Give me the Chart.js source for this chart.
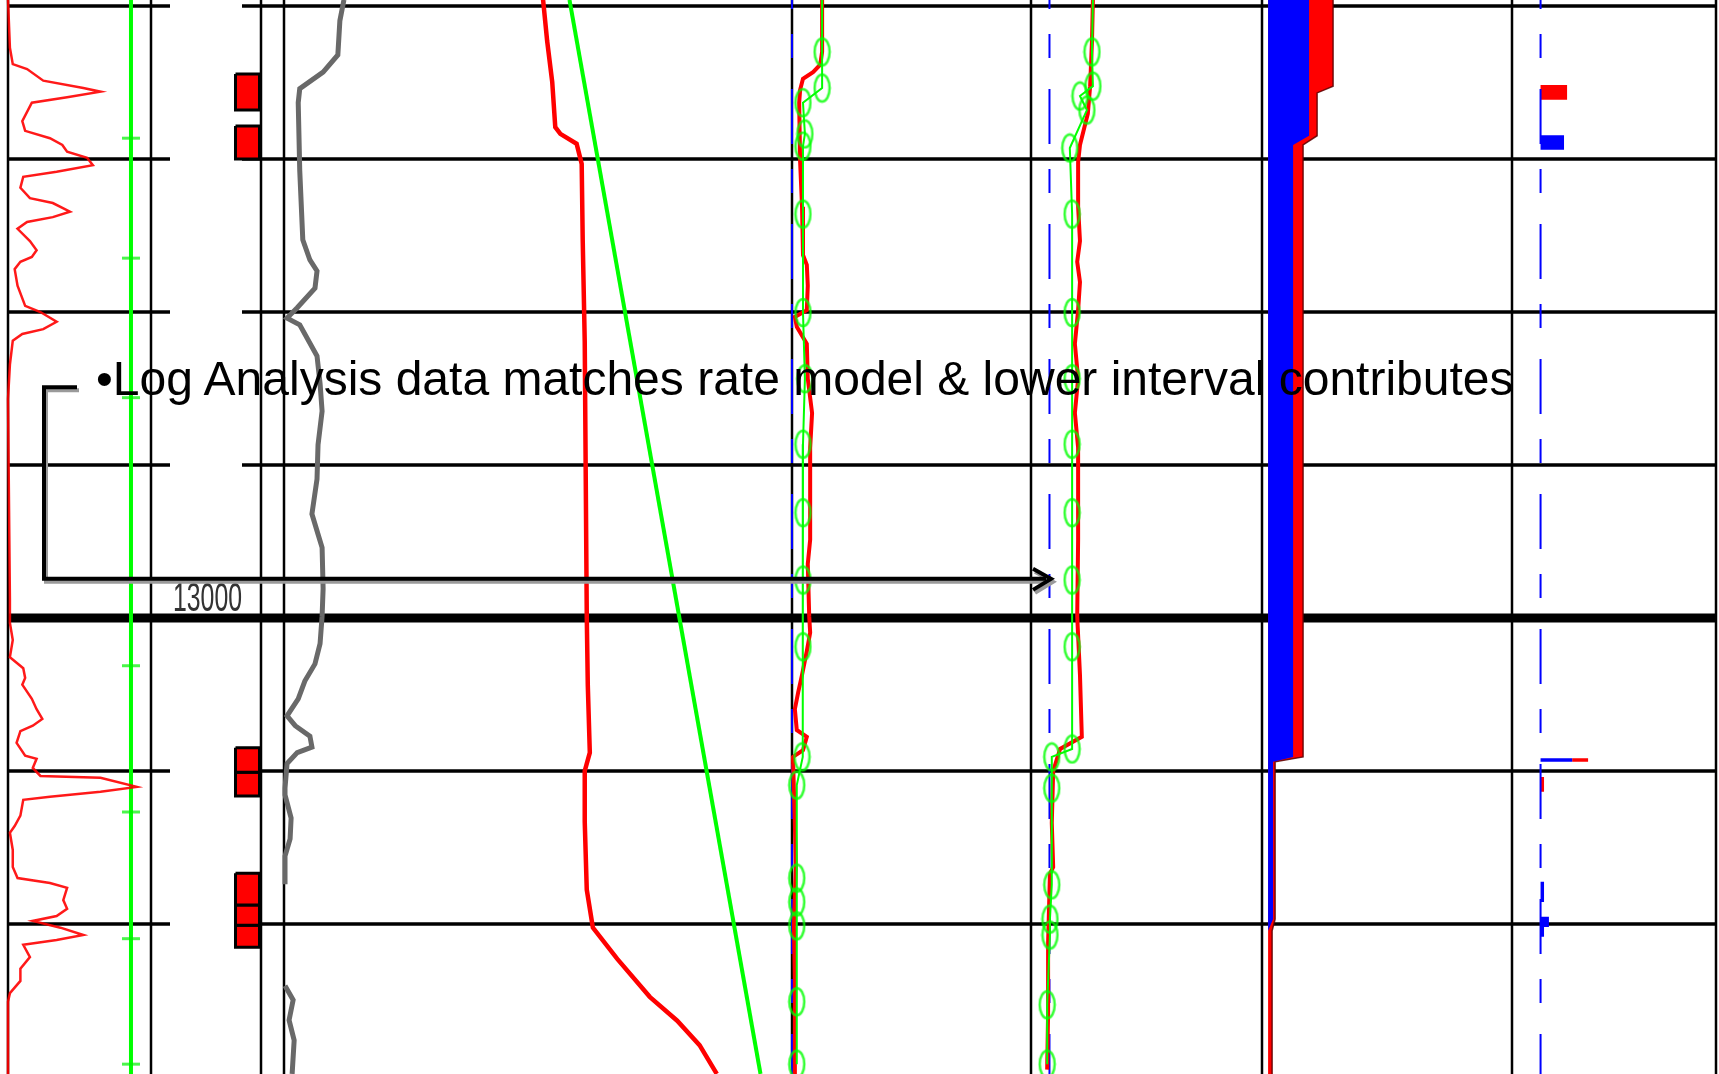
<!DOCTYPE html>
<html>
<head>
<meta charset="utf-8">
<script src="https://cdn.jsdelivr.net/npm/chart.js@4.4.1/dist/chart.umd.min.js"></script>
<style>
  html, body { margin: 0; padding: 0; background: #fff; }
  #wrap { position: relative; width: 1719px; height: 1074px; overflow: hidden; }
  #log { position: absolute; left: 0; top: 0; }
  #note { position: absolute; left: 96px; top: 355px; font-family: "Liberation Sans", Arial, sans-serif;
          font-size: 48px; line-height: 48px; white-space: nowrap; color: #000; }
</style>
</head>
<body>
<div id="wrap">
  <canvas id="log" width="1719" height="1074"></canvas>
  <div id="note">•Log Analysis data matches rate model &amp; lower interval contributes</div>
</div>
<script>
// ---- depth grid (ft) ----
const gridDepths = [12900, 12925, 12950, 12975, 13000, 13025, 13050];
const depthLabels = [13000];

// ---- track 1: gamma ray + caliper ----
const grDepth = [12899.0, 12906.8, 12909.5, 12910.3, 12912.2, 12913.4, 12914.0, 12914.9, 12915.8, 12918.8,
                 12920.4, 12921.6, 12922.7, 12923.8, 12924.8, 12926.0, 12927.1, 12927.9, 12929.7, 12931.4,
                 12932.2, 12933.6, 12934.5, 12935.3, 12936.4, 12938.4, 12939.9, 12941.0, 12941.8, 12943.0,
                 12945.7, 12949.0, 12950.0, 12951.6, 12952.8, 12953.6, 12954.7, 12958.6, 12964.2, 12996.9,
                 13000.8, 13003.6, 13006.4, 13008.2, 13009.8, 13010.9, 13013.2, 13014.9, 13016.5, 13017.6,
                 13018.5, 13020.4, 13022.5, 13023.0, 13024.5, 13025.8, 13026.1, 13027.6, 13028.4, 13029.2,
                 13029.7, 13032.3, 13034.0, 13035.1, 13037.9, 13040.7, 13042.5, 13043.3, 13044.1, 13046.1,
                 13047.5, 13048.7, 13049.5, 13050.6, 13051.8, 13052.6, 13053.4, 13055.4, 13057.3, 13059.3,
                 13061.3, 13062.7, 13074.5];
const grValue = [0, 2, 5, 20, 37, 79, 97, 62, 25, 15,
                 18, 44, 57, 62, 83, 89, 51, 16, 13, 23,
                 47, 65, 47, 20, 10, 23, 30, 25, 13, 7,
                 10, 18, 34, 51, 37, 15, 5, 2, 0, 2,
                 2, 5, 2, 16, 18, 15, 25, 30, 36, 26,
                 13, 9, 18, 30, 26, 34, 97, 135, 97, 44,
                 16, 13, 7, 2, 5, 5, 10, 44, 62, 58,
                 62, 51, 26, 55, 79, 51, 16, 23, 13, 13,
                 2, 0, 0];
const calDepth = [12899, 13074.5];
const calValue = [129, 129];
const calTickDepth = [12921.6, 12941.2, 12964.0, 13007.8, 13031.7, 13052.4, 13072.9];

// ---- perforations ----
const perfTop    = [12911.1, 12919.6, 13021.2, 13025.2, 13041.7, 13046.9, 13050.2];
const perfBottom = [12917.0, 12925.0, 13025.2, 13029.1, 13046.9, 13050.2, 13053.8];

// ---- track 3: CCL, temperature, geothermal gradient ----
const cclDepth = [12899.0, 12902.4, 12908.0, 12910.8, 12913.5, 12915.8, 12926.9, 12938.2, 12941.5, 12943.3,
                  12946.1, 12949.3, 12951.0, 12952.1, 12957.2, 12961.7, 12966.2, 12971.7, 12977.3, 12983.0,
                  12986.3, 12988.5, 12995.2, 12999.7, 13004.2, 13007.5, 13010.3, 13013.2, 13016.0, 13017.6,
                  13019.3, 13021.1, 13022.0, 13023.8, 13027.8, 13028.9, 13032.7, 13036.1, 13038.9, 13043.5,
                  null, 13060.1, 13062.4, 13065.7, 13069.0, 13074.5];
const cclValue = [11.8, 11.0, 10.6, 7.7, 3.1, 2.8, 3.1, 3.7, 5.1, 6.5,
                  6.1, 2.6, 0.6, 3.1, 6.5, 7.1, 7.5, 6.7, 6.5, 5.5,
                  6.7, 7.5, 7.7, 7.5, 7.1, 6.1, 4.1, 2.8, 0.6, 2.2,
                  5.1, 5.5, 2.6, 0.6, 0.2, 0.2, 1.4, 1.2, 0.2, 0.2,
                  null, 0.2, 1.8, 1.0, 2.0, 1.6];
const tempDepth = [12899.0, 12905.7, 12912.4, 12919.8, 12920.9, 12922.5, 12925.8, 12938.2, 12954.9, 12977.3,
                   12999.7, 13010.9, 13022.0, 13025.0, 13033.3, 13044.4, 13050.6, 13055.7, 13061.9, 13065.8,
                   13069.8, 13074.5];
const tempValue = [265.5, 265.9, 266.4, 266.7, 267.2, 268.8, 269.3, 269.4, 269.6, 269.7,
                   269.8, 269.9, 270.1, 269.6, 269.6, 269.8, 270.4, 272.8, 276.0, 278.7,
                   280.9, 282.6];
const gradDepth = [12899, 13074.5];
const gradValue = [268.1, 286.9];

// ---- track 4: fluid density, measured and model ----
const densDepth = [12899.0, 12907.5, 12909.6, 12910.8, 12911.9, 12913.7, 12915.8, 12925.5, 12932.8, 12940.7,
                   12942.3, 12945.7, 12949.7, 12950.8, 12952.4, 12955.2, 12960.9, 12966.5, 12972.2, 12987.2,
                   12991.2, 12999.7, 13002.4, 13005.4, 13009.3, 13012.1, 13014.9, 13018.3, 13019.4, 13021.6,
                   13022.7, 13033.5, 13040.7, 13050.3, 13059.3, 13074.5];
const densValue = [6.3, 6.3, 5.9, 4.4, 2.3, 1.7, 1.5, 1.7, 2.1, 2.3,
                   3.1, 3.3, 3.1, 0.6, 1.0, 3.1, 3.3, 4.2, 3.8, 3.8,
                   3.3, 3.6, 3.8, 3.1, 2.1, 1.3, 0.6, 1.0, 3.1, 2.3,
                   0.2, 0.6, 0.8, 0.4, 0.6, 0.6];
const densModelDepth = [12899.0, 12907.5, 12913.4, 12915.8, 12920.9, 12922.9, 12934.0, 12950.1, 12960.9, 12971.6,
                        12982.8, 12993.8, 13004.7, 13022.7, 13027.3, 13042.5, 13046.4, 13050.3, 13062.7, 13072.9];
const densModelValue = [6.3, 6.3, 6.3, 2.3, 2.7, 2.3, 2.3, 2.3, 2.7, 2.3,
                        2.3, 2.3, 2.3, 2.1, 1.0, 1.0, 1.0, 1.0, 1.0, 1.0];

// ---- track 5: spinner, measured and model ----
const spinDepth = [12899.0, 12905.7, 12913.1, 12917.6, 12922.7, 12925.5, 12932.8, 12938.4, 12941.8, 12945.1,
                   12949.7, 12955.2, 12960.9, 12966.5, 12972.2, 12987.2, 12999.7, 13009.3, 13019.4, 13021.4,
                   13025.0, 13033.5, 13040.7, 13041.8, 13053.1, 13064.4, 13073.8];
const spinValue = [9.4, 9.2, 8.8, 8.3, 6.6, 6.2, 6.2, 6.6, 6.0, 6.6,
                   6.2, 5.5, 6.2, 5.5, 6.2, 6.2, 6.0, 6.6, 7.0, 2.3,
                   0.8, 0.5, 0.8, 0.1, -0.3, -0.3, -0.5];
const spinModelDepth = [12899.0, 12907.5, 12913.1, 12914.7, 12917.0, 12923.2, 12934.0, 12950.1, 12960.9, 12971.6,
                        12982.8, 12993.8, 13004.7, 13021.4, 13022.7, 13027.8, 13043.6, 13049.2, 13051.8, 13063.2,
                        13072.9];
const spinModelValue = [9.4, 9.2, 9.4, 6.6, 8.1, 4.4, 4.9, 4.9, 4.9, 4.9,
                        4.9, 4.9, 4.9, 4.9, 0.5, 0.5, 0.5, 0.1, 0.1, -0.5,
                        -0.5];

// ---- track 6: cumulative flow profile (bbl/d) ----
const waterDepth = [12899, 12921.2, 12922.7, 13022.7, 13023.5, 13049.2, 13051.1, 13074.5];
const waterRate  = [672, 672, 410, 410, 82, 82, 0, 0];
const totalDepth = [12899, 12913.1, 12914.2, 12921.2, 12922.7, 13022.7, 13023.5, 13049.2, 13051.1, 13074.5];
const totalRate  = [1066, 1066, 804, 804, 574, 574, 115, 115, 66, 66];

// ---- track 7: interval contribution (%) ----
const contribTop    = [12912.9, 12921.1, 13022.9, 13022.9, 13026.0, 13043.1, 13048.8, 13050.5];
const contribBottom = [12915.3, 12923.5, 13023.5, 13023.5, 13028.4, 13046.4, 13050.5, 13052.1];
const contribFrom   = [0, 0, 0, 15.5, 0, 0, 0, 0];
const contribTo     = [13, 11.5, 15.5, 23.3, 1.7, 1.7, 4.1, 1.7];
const contribPhase  = ['oil', 'water', 'water', 'oil', 'oil', 'water', 'water', 'water'];

// ---- layout ----
const W = 1719, H = 1074;
const trackBorders = [8, 151, 261, 284, 792, 1031, 1262, 1512, 1716];
const gridSpans = [[8, 170], [242, 1716]];
const majorSpans = [[8, 1716]];
const calloutTopDepth = 12962.3, calloutArrowDepth = 12993.6;
const phaseColor = { oil: '#ff0000', water: '#0000ff' };

// linear axis whose value vLeft sits at pxLeft and vRight at pxRight across the full canvas
function axis(pxLeft, pxRight, vLeft, vRight) {
  const k = (vRight - vLeft) / (pxRight - pxLeft);
  return { type: 'linear', display: false, min: vLeft - pxLeft * k, max: vLeft + (W - pxLeft) * k };
}
const depthK = (13000 - 12900) / (618 - 6);

const pts = (depths, values) => depths.map((d, i) => ({ x: values[i], y: d }));
const rect = (x0, x1, d0, d1) => [{ x: x0, y: d0 }, { x: x1, y: d0 }, { x: x1, y: d1 }, { x: x0, y: d1 }, { x: x0, y: d0 }];
const toZero = (depths, values) => [{ x: 0, y: depths[0] }, ...pts(depths, values), { x: 0, y: depths[depths.length - 1] }];

function line(label, xAxisID, data, color, width, extra) {
  return Object.assign({ label, xAxisID, yAxisID: 'y', data, showLine: true, borderColor: color,
    borderWidth: width, pointRadius: 0, fill: false, tension: 0 }, extra || {});
}

// open ellipse used for the model points
const ring = document.createElement('canvas');
ring.width = 19; ring.height = 31;
(function () {
  const g = ring.getContext('2d');
  g.strokeStyle = 'rgba(0,255,0,0.8)';
  g.lineWidth = 2.5;
  g.beginPath(); g.ellipse(9.5, 15.5, 7.5, 13.5, 0, 0, Math.PI * 2); g.stroke();
})();

const blueDash = { borderDash: [24, 31, 55, 25], borderDashOffset: 101 };
const fullDepth = [12899, 13074.5];
const zeros = [0, 0];

const datasets = [
  { label: 'density model points', xAxisID: 'xDens', yAxisID: 'y', showLine: false,
    data: pts(densModelDepth.slice(1), densModelValue.slice(1)), pointStyle: ring, pointRadius: 8 },
  { label: 'spinner model points', xAxisID: 'xSpin', yAxisID: 'y', showLine: false,
    data: pts(spinModelDepth.slice(1), spinModelValue.slice(1)), pointStyle: ring, pointRadius: 8 },
  line('density model', 'xDens', pts(densModelDepth, densModelValue), '#00ff00', 2),
  line('spinner model', 'xSpin', pts(spinModelDepth, spinModelValue), '#00ff00', 2),
  line('density', 'xDens', pts(densDepth, densValue), '#ff0000', 4),
  line('spinner', 'xSpin', pts(spinDepth, spinValue), '#ff0000', 4),
  line('density zero', 'xDens', pts(fullDepth, zeros), '#0000ff', 2, blueDash),
  line('spinner zero', 'xSpin', pts(fullDepth, zeros), '#0000ff', 2, blueDash),
  line('contribution zero', 'xCon', pts(fullDepth, zeros), '#0000ff', 2, blueDash),
  line('GR', 'xGR', pts(grDepth, grValue), 'rgba(255,0,0,0.9)', 2.5),
  { label: 'caliper ticks', xAxisID: 'xGR', yAxisID: 'y', showLine: false, data: pts(calTickDepth, calTickDepth.map(() => calValue[0])),
    pointStyle: 'line', pointRadius: 9, pointBorderWidth: 3, pointBorderColor: 'rgba(0,240,0,0.7)' },
  line('caliper', 'xGR', pts(calDepth, calValue), '#00ff00', 4),
  line('temperature', 'xTemp', pts(tempDepth, tempValue), '#ff0000', 4.5),
  line('geothermal', 'xTemp', pts(gradDepth, gradValue), '#00ff00', 4),
  line('CCL', 'xCcl', pts(cclDepth, cclValue), '#696969', 5)
];
perfTop.forEach((t, i) => datasets.push(line('perf ' + (i + 1), 'xPerf', rect(0, 1, t, perfBottom[i]), '#000', 3,
  { fill: 'shape', backgroundColor: '#ff0000' })));
contribTop.forEach((t, i) => datasets.push(line('contribution ' + (i + 1), 'xCon', rect(contribFrom[i], contribTo[i], t, contribBottom[i]),
  phaseColor[contribPhase[i]], 0, { fill: 'shape', backgroundColor: phaseColor[contribPhase[i]] })));
datasets.push(line('water rate', 'xFlow', toZero(waterDepth, waterRate), '#0000ff', 0, { fill: 'shape', backgroundColor: '#0000ff' }));
datasets.push(line('total rate edge', 'xFlow', pts(totalDepth, totalRate), 'rgba(90,0,0,0.85)', 1.5));
datasets.push(line('total rate', 'xFlow', toZero(totalDepth, totalRate), '#ff0000', 0, { fill: 'shape', backgroundColor: '#ff0000' }));

const logFrame = {
  id: 'logFrame',
  beforeDatasetsDraw(chart) {
    const { ctx, scales: { y } } = chart;
    ctx.save();
    ctx.strokeStyle = '#000';
    ctx.lineWidth = 2.5;
    trackBorders.forEach(px => { ctx.beginPath(); ctx.moveTo(px, 0); ctx.lineTo(px, H); ctx.stroke(); });
    gridDepths.forEach(d => {
      const py = y.getPixelForValue(d);
      const major = depthLabels.includes(d);
      ctx.lineWidth = major ? 9 : 3.6;
      (major ? majorSpans : gridSpans).forEach(([a, b]) => { ctx.beginPath(); ctx.moveTo(a, py); ctx.lineTo(b, py); ctx.stroke(); });
    });
    depthLabels.forEach(d => {
      const py = y.getPixelForValue(d);
      ctx.save();
      ctx.translate(173, py - 7);
      ctx.scale(0.62, 1);
      ctx.fillStyle = '#333';
      ctx.font = '40px "Liberation Sans", Arial, sans-serif';
      ctx.fillText(String(d), 0, 0);
      ctx.restore();
    });
    ctx.restore();
  },
  afterDatasetsDraw(chart) {
    const { ctx, scales: { y } } = chart;
    const yA = y.getPixelForValue(calloutTopDepth), yB = y.getPixelForValue(calloutArrowDepth);
    const path = [[77, yA], [44, yA], [44, yB], [1046, yB]];
    const head = [[1033, yB - 10], [1051, yB], [1033, yB + 11]];
    const draw = (p, dx, dy, color) => {
      ctx.strokeStyle = color;
      ctx.beginPath();
      p.forEach(([px, py], i) => (i ? ctx.lineTo(px + dx, py + dy) : ctx.moveTo(px + dx, py + dy)));
      ctx.stroke();
    };
    ctx.save();
    ctx.lineWidth = 4;
    ctx.lineJoin = 'miter';
    draw(path, 2, 3, '#9a9a9a'); draw(head, 2, 3, '#9a9a9a');
    draw(path, 0, 0, '#000'); draw(head, 0, 0, '#000');
    ctx.restore();
  }
};

new Chart(document.getElementById('log'), {
  type: 'scatter',
  data: { datasets },
  options: {
    responsive: false,
    animation: false,
    events: [],
    layout: { padding: 0, autoPadding: false },
    plugins: { legend: { display: false }, tooltip: { enabled: false } },
    scales: {
      y: { type: 'linear', display: false, reverse: true, min: 12900 - 6 * depthK, max: 12900 + (H - 6) * depthK },
      xGR: axis(8, 151, 0, 150),
      xPerf: axis(235.5, 259.5, 0, 1),
      xCcl: axis(284, 792, 0, 100),
      xTemp: axis(284, 792, 240, 290),
      xDens: axis(792, 1031, 0, 50),
      xSpin: axis(1031, 1262, -4, 46),
      xFlow: axis(1262, 1512, -100, 4000),
      xCon: axis(1512, 1716, -14, 86)
    }
  },
  plugins: [logFrame]
});
</script>
</body>
</html>
